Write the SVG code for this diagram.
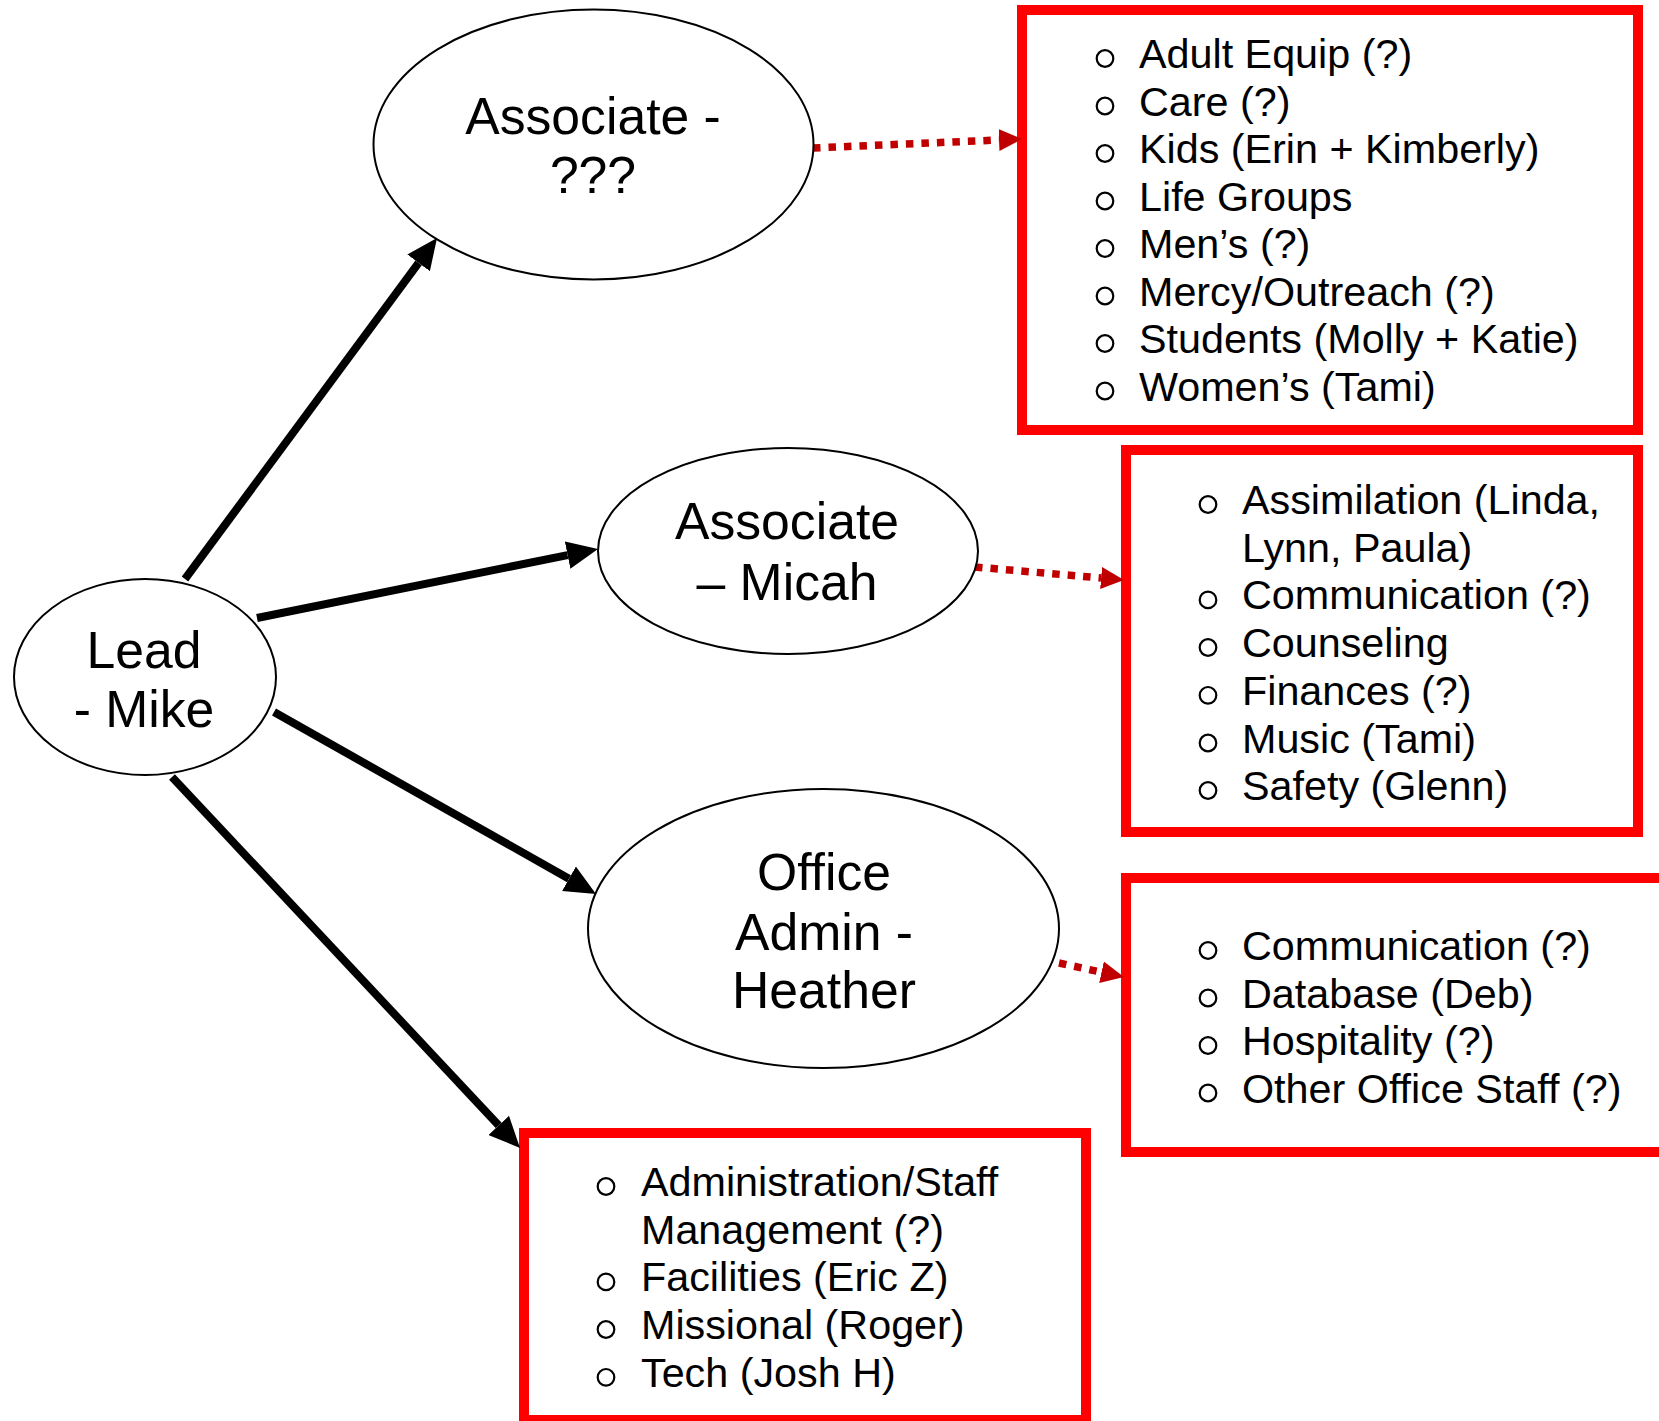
<svg xmlns="http://www.w3.org/2000/svg" width="1659" height="1421" viewBox="0 0 1659 1421">
<style>
  .node ellipse { fill: #FFFFFF; stroke: #000000; stroke-width: 2; }
  .ntext { font-family: "Liberation Sans", Arial, sans-serif; font-size: 51.7px; fill: #000000; text-anchor: middle; }
  .box rect { fill: #FFFFFF; stroke: #FF0000; stroke-width: 10; }
  .item { font-family: "Liberation Sans", Arial, sans-serif; font-size: 41.3px; fill: #000000; }
  .bullet { fill: none; stroke: #000000; stroke-width: 2.2; }
  .solid { fill: none; stroke: #000000; stroke-width: 8; marker-end: url(#blackHead); }
  .dotted { fill: none; stroke: #C00000; stroke-width: 7.5; stroke-dasharray: 7.5 8; marker-end: url(#redHead); }
</style>
<defs>
  <marker id="blackHead" markerUnits="userSpaceOnUse" viewBox="0 -14 31 28" refX="0" refY="0" markerWidth="31" markerHeight="28" orient="auto">
    <path d="M0,-14 L31,0 L0,14 z" fill="#000000"/>
  </marker>
  <marker id="redHead" markerUnits="userSpaceOnUse" viewBox="0 -11 23 22" refX="0" refY="0" markerWidth="23" markerHeight="22" orient="auto">
    <path d="M0,-11 L23,0 L0,11 z" fill="#C00000"/>
  </marker>
</defs>
<rect x="0" y="0" width="1659" height="1421" fill="#FFFFFF"/>

<g id="box-associate-unknown" class="box">
  <rect x="1022" y="10" width="616" height="420"/>
  <circle class="bullet" cx="1105" cy="58.5" r="8.3"/>
  <circle class="bullet" cx="1105" cy="106" r="8.3"/>
  <circle class="bullet" cx="1105" cy="153.5" r="8.3"/>
  <circle class="bullet" cx="1105" cy="201" r="8.3"/>
  <circle class="bullet" cx="1105" cy="248.5" r="8.3"/>
  <circle class="bullet" cx="1105" cy="296" r="8.3"/>
  <circle class="bullet" cx="1105" cy="343.5" r="8.3"/>
  <circle class="bullet" cx="1105" cy="391" r="8.3"/>
  <text class="item" x="1139" y="68">Adult Equip (?)</text>
  <text class="item" x="1139" y="115.5">Care (?)</text>
  <text class="item" x="1139" y="163">Kids (Erin + Kimberly)</text>
  <text class="item" x="1139" y="210.5">Life Groups</text>
  <text class="item" x="1139" y="258">Men’s (?)</text>
  <text class="item" x="1139" y="305.5">Mercy/Outreach (?)</text>
  <text class="item" x="1139" y="353">Students (Molly + Katie)</text>
  <text class="item" x="1139" y="400.5">Women’s (Tami)</text>
</g>

<g id="box-associate-micah" class="box">
  <rect x="1126" y="450" width="512" height="382"/>
  <circle class="bullet" cx="1208" cy="504.5" r="8.3"/>
  <circle class="bullet" cx="1208" cy="599.9" r="8.3"/>
  <circle class="bullet" cx="1208" cy="647.5" r="8.3"/>
  <circle class="bullet" cx="1208" cy="695.3" r="8.3"/>
  <circle class="bullet" cx="1208" cy="743" r="8.3"/>
  <circle class="bullet" cx="1208" cy="790.5" r="8.3"/>
  <text class="item" x="1242" y="514">Assimilation (Linda,</text>
  <text class="item" x="1242" y="561.7">Lynn, Paula)</text>
  <text class="item" x="1242" y="609.4">Communication (?)</text>
  <text class="item" x="1242" y="657">Counseling</text>
  <text class="item" x="1242" y="704.8">Finances (?)</text>
  <text class="item" x="1242" y="752.5">Music (Tami)</text>
  <text class="item" x="1242" y="800">Safety (Glenn)</text>
</g>

<g id="box-office-admin" class="box">
  <rect x="1126" y="878" width="550" height="274"/>
  <circle class="bullet" cx="1208" cy="950.5" r="8.3"/>
  <circle class="bullet" cx="1208" cy="998" r="8.3"/>
  <circle class="bullet" cx="1208" cy="1045.5" r="8.3"/>
  <circle class="bullet" cx="1208" cy="1093" r="8.3"/>
  <text class="item" x="1242" y="960">Communication (?)</text>
  <text class="item" x="1242" y="1007.5">Database (Deb)</text>
  <text class="item" x="1242" y="1055">Hospitality (?)</text>
  <text class="item" x="1242" y="1102.5">Other Office Staff (?)</text>
</g>

<g id="box-lead" class="box">
  <rect x="524" y="1133" width="562" height="287"/>
  <circle class="bullet" cx="606" cy="1186.5" r="8.3"/>
  <circle class="bullet" cx="606" cy="1281.9" r="8.3"/>
  <circle class="bullet" cx="606" cy="1329.5" r="8.3"/>
  <circle class="bullet" cx="606" cy="1377.3" r="8.3"/>
  <text class="item" x="641" y="1196">Administration/Staff</text>
  <text class="item" x="641" y="1243.7">Management (?)</text>
  <text class="item" x="641" y="1291.4">Facilities (Eric Z)</text>
  <text class="item" x="641" y="1339">Missional (Roger)</text>
  <text class="item" x="641" y="1386.8">Tech (Josh H)</text>
</g>

<g id="connectors">
  <line class="solid" x1="185" y1="579" x2="418.6" y2="262.9"/>
  <line class="solid" x1="257" y1="618" x2="567.6" y2="555.1"/>
  <line class="solid" x1="274" y1="712" x2="569" y2="878.7"/>
  <line class="solid" x1="172" y1="777" x2="498.8" y2="1125.4"/>
  <line class="dotted" x1="813" y1="148" x2="999" y2="140"/>
  <line class="dotted" x1="975" y1="567" x2="1101.1" y2="578"/>
  <line class="dotted" x1="1059" y1="963" x2="1101.5" y2="972.2"/>
</g>

<g id="node-lead" class="node">
  <ellipse cx="145" cy="677" rx="131" ry="98"/>
  <text class="ntext" x="144" y="668">Lead</text>
  <text class="ntext" x="144" y="727">- Mike</text>
</g>

<g id="node-associate-unknown" class="node">
  <ellipse cx="593.5" cy="144.5" rx="220" ry="135"/>
  <text class="ntext" x="593" y="134">Associate -</text>
  <text class="ntext" x="593" y="193">???</text>
</g>

<g id="node-associate-micah" class="node">
  <ellipse cx="788" cy="551" rx="190" ry="103"/>
  <text class="ntext" x="787" y="539">Associate</text>
  <text class="ntext" x="787" y="600">– Micah</text>
</g>

<g id="node-office-admin" class="node">
  <ellipse cx="823.5" cy="928.5" rx="235.5" ry="139.5"/>
  <text class="ntext" x="824" y="890">Office</text>
  <text class="ntext" x="824" y="950">Admin -</text>
  <text class="ntext" x="824" y="1008">Heather</text>
</g>
</svg>
